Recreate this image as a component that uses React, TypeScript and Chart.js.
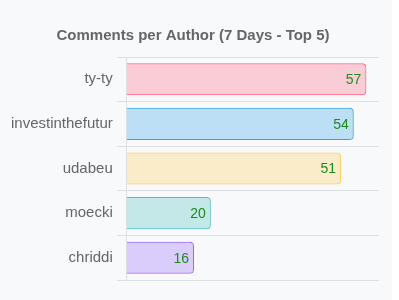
import React, { useEffect, useRef } from "react";
import { Chart, registerables } from "chart.js";

Chart.register(...registerables);

const authors = ["ty-ty", "investinthefutur", "udabeu", "moecki", "chriddi"];
const comments = [57, 54, 51, 20, 16];
const fillColors = [
  "rgba(255, 99, 132, 0.3)",
  "rgba(54, 162, 235, 0.3)",
  "rgba(255, 206, 86, 0.3)",
  "rgba(75, 192, 192, 0.3)",
  "rgba(153, 102, 255, 0.3)",
];
const borderColors = [
  "rgba(255, 99, 132, 1)",
  "rgba(54, 162, 235, 1)",
  "rgba(255, 206, 86, 1)",
  "rgba(75, 192, 192, 1)",
  "rgba(153, 102, 255, 1)",
];
const titleText = "Comments per Author (7 Days - Top 5)";

const valueLabels = {
  id: "valueLabels",
  afterDatasetsDraw(chart: any) {
    const ctx = chart.ctx;
    const meta = chart.getDatasetMeta(0);
    const data = chart.data.datasets[0].data;
    ctx.save();
    ctx.font = "14px Arial, 'Liberation Sans', sans-serif";
    ctx.fillStyle = "#1e8a1e";
    ctx.textAlign = "right";
    ctx.textBaseline = "middle";
    meta.data.forEach((bar: any, i: number) => {
      ctx.fillText(String(data[i]), bar.x - 5, bar.y + 1);
    });
    ctx.restore();
  },
};

export default function App() {
  const ref = useRef<HTMLCanvasElement | null>(null);
  useEffect(() => {
    document.body.style.margin = "0";
    document.body.style.background = "#ffffff";
    if (!ref.current) return;
    const chart = new Chart(ref.current, {
      type: "bar",
      data: {
        labels: authors,
        datasets: [
          {
            data: comments,
            backgroundColor: fillColors,
            borderColor: borderColors,
            borderWidth: 1,
            borderRadius: 4,
          },
        ],
      },
      options: {
        indexAxis: "y",
        animation: false,
        responsive: true,
        maintainAspectRatio: false,
        layout: { padding: { top: 17, left: 7, right: 7, bottom: 20 } },
        font: { family: "Arial, 'Liberation Sans', sans-serif" } as any,
        plugins: {
          legend: { display: false },
          tooltip: { enabled: false },
          title: {
            display: true,
            text: titleText,
            color: "#666",
            font: { size: 15, weight: "bold", family: "Arial, 'Liberation Sans', sans-serif" },
            padding: { top: 10, bottom: 12 },
          },
        },
        scales: {
          x: { display: false, min: 0, max: 60 },
          y: {
            ticks: {
              color: "#666",
              padding: 4,
              font: { size: 15, family: "Arial, 'Liberation Sans', sans-serif" },
            },
            grid: { color: "rgba(0,0,0,0.1)", tickLength: 10 },
            border: { color: "rgba(0,0,0,0.1)" },
          },
        },
      },
      plugins: [valueLabels],
    });
    return () => chart.destroy();
  }, []);
  return (
    <div style={{ width: 392, height: 300, background: "#f8f9fa", position: "relative" }}>
      <div style={{ position: "absolute", left: 0, top: 0, width: 386, height: 300 }}>
        <canvas ref={ref} />
      </div>
    </div>
  );
}
